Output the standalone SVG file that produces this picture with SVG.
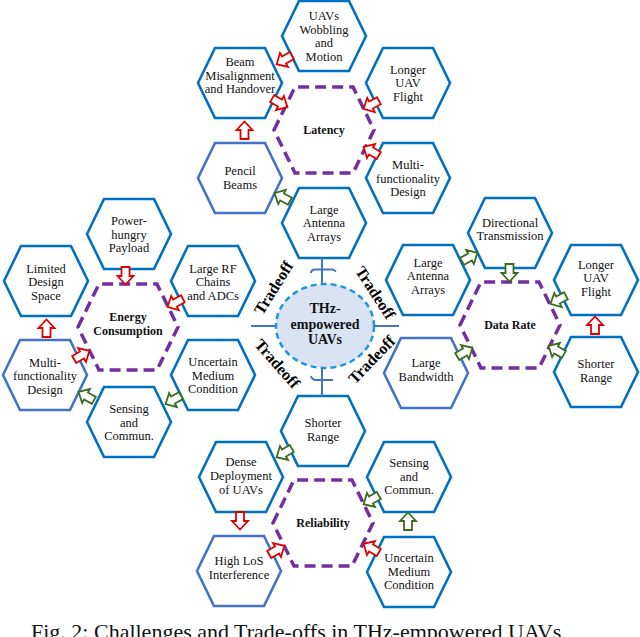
<svg xmlns="http://www.w3.org/2000/svg" xmlns:xlink="http://www.w3.org/1999/xlink" width="640" height="637" viewBox="0 0 640 637">
<defs>
<style>
.hx{fill:#fff;stroke:#0070C0;stroke-width:2.6;stroke-linejoin:miter}
.hl{fill:#fff;stroke:#4472C4;stroke-width:2.6}
.dh{fill:none;stroke:#7030A0;stroke-width:3.5;stroke-dasharray:11 6}
.t{font-family:"Liberation Serif","Times New Roman",serif;font-size:12.5px;text-anchor:middle;fill:#111}
.b{font-family:"Liberation Serif","Times New Roman",serif;font-size:12px;font-weight:bold;text-anchor:middle;fill:#111}
.c{font-family:"Liberation Serif","Times New Roman",serif;font-size:14px;font-weight:bold;text-anchor:middle;fill:#111}
.to{font-family:"Liberation Serif","Times New Roman",serif;font-size:16px;font-weight:bold;text-anchor:middle;fill:#000}
.r{fill:#fff;stroke:#E00000;stroke-width:1.8;stroke-linejoin:miter}
.g{fill:#fff;stroke:#3B6B1F;stroke-width:1.8;stroke-linejoin:miter}
.ln{stroke:#4472C4;stroke-width:2;fill:none}
</style>
<polygon id="hex" points="-42,0 -25,-35 25,-35 42,0 25,35 -25,35"/>
<polygon id="dhex" points="-50,0 -29,-43 29,-43 50,0 29,43 -29,43"/>
<path id="arr" d="M-9,-4 H0 V-8 L8.5,0 L0,8 V4 H-9 Z"/>
</defs>
<rect width="640" height="637" fill="#fff"/>

<!-- Latency cluster -->
<g id="n-uavs-wobbling"><use href="#hex" class="hx" transform="translate(324,36)"/><text class="t" x="324"><tspan x="324" y="20">UAVs</tspan><tspan x="324" y="33.5">Wobbling</tspan><tspan x="324" y="47">and</tspan><tspan x="324" y="60.5">Motion</tspan></text></g>
<g id="n-beam-misalignment"><use href="#hex" class="hx" transform="translate(240,83)"/><text class="t"><tspan x="240" y="66">Beam</tspan><tspan x="240" y="79.5">Misalignment</tspan><tspan x="240" y="93">and Handover</tspan></text></g>
<g id="n-longer-uav-flight-1"><use href="#hex" class="hx" transform="translate(408,83)"/><text class="t"><tspan x="408" y="73.5">Longer</tspan><tspan x="408" y="87">UAV</tspan><tspan x="408" y="100.5">Flight</tspan></text></g>
<g id="n-latency"><use href="#dhex" class="dh" transform="translate(324,130)"/><text class="b" x="324" y="133.5">Latency</text></g>
<g id="n-pencil-beams"><use href="#hex" class="hl" transform="translate(240,178)"/><text class="t"><tspan x="240" y="175">Pencil</tspan><tspan x="240" y="188.5">Beams</tspan></text></g>
<g id="n-multi-func-1"><use href="#hex" class="hx" transform="translate(408,178)"/><text class="t"><tspan x="408" y="169">Multi-</tspan><tspan x="408" y="182.5">functionality</tspan><tspan x="408" y="196">Design</tspan></text></g>
<g id="n-large-antenna-1"><use href="#hex" class="hx" transform="translate(324,223)"/><text class="t"><tspan x="324" y="213.5">Large</tspan><tspan x="324" y="227">Antenna</tspan><tspan x="324" y="240.5">Arrays</tspan></text></g>

<!-- Energy cluster -->
<g id="n-power-hungry"><use href="#hex" class="hx" transform="translate(129,234)"/><text class="t"><tspan x="129" y="225">Power-</tspan><tspan x="129" y="238.5">hungry</tspan><tspan x="129" y="252">Payload</tspan></text></g>
<g id="n-limited-design"><use href="#hex" class="hx" transform="translate(46,281)"/><text class="t"><tspan x="46" y="272.5">Limited</tspan><tspan x="46" y="286">Design</tspan><tspan x="46" y="299.5">Space</tspan></text></g>
<g id="n-large-rf"><use href="#hex" class="hx" transform="translate(213,281)"/><text class="t"><tspan x="213" y="272.5">Large RF</tspan><tspan x="213" y="286">Chains</tspan><tspan x="213" y="299.5">and ADCs</tspan></text></g>
<g id="n-energy"><use href="#dhex" class="dh" transform="translate(128,327)"/><text class="b"><tspan x="128" y="321">Energy</tspan><tspan x="128" y="334.5">Consumption</tspan></text></g>
<g id="n-multi-func-2"><use href="#hex" class="hl" transform="translate(45,375)"/><text class="t"><tspan x="45" y="366.5">Multi-</tspan><tspan x="45" y="380">functionality</tspan><tspan x="45" y="393.5">Design</tspan></text></g>
<g id="n-uncertain-1"><use href="#hex" class="hx" transform="translate(213,375)"/><text class="t"><tspan x="213" y="366">Uncertain</tspan><tspan x="213" y="379.5">Medium</tspan><tspan x="213" y="393">Condition</tspan></text></g>
<g id="n-sensing-1"><use href="#hex" class="hx" transform="translate(129,422)"/><text class="t"><tspan x="129" y="413">Sensing</tspan><tspan x="129" y="426.5">and</tspan><tspan x="129" y="440">Commun.</tspan></text></g>

<!-- Data rate cluster -->
<g id="n-directional"><use href="#hex" class="hx" transform="translate(510,233)"/><text class="t"><tspan x="510" y="226.5">Directional</tspan><tspan x="510" y="240">Transmission</tspan></text></g>
<g id="n-large-antenna-2"><use href="#hex" class="hx" transform="translate(428,280)"/><text class="t"><tspan x="428" y="266.5">Large</tspan><tspan x="428" y="280">Antenna</tspan><tspan x="428" y="293.5">Arrays</tspan></text></g>
<g id="n-longer-uav-flight-2"><use href="#hex" class="hx" transform="translate(596,280)"/><text class="t"><tspan x="596" y="268.5">Longer</tspan><tspan x="596" y="282">UAV</tspan><tspan x="596" y="295.5">Flight</tspan></text></g>
<g id="n-data-rate"><use href="#dhex" class="dh" transform="translate(510,325)"/><text class="b" x="510" y="329">Data Rate</text></g>
<g id="n-large-bandwidth"><use href="#hex" class="hl" transform="translate(426,373)"/><text class="t"><tspan x="426" y="366.5">Large</tspan><tspan x="426" y="381">Bandwidth</tspan></text></g>
<g id="n-shorter-range-1"><use href="#hex" class="hx" transform="translate(596,372)"/><text class="t"><tspan x="596" y="368">Shorter</tspan><tspan x="596" y="381.5">Range</tspan></text></g>

<!-- Reliability cluster -->
<g id="n-shorter-range-2"><use href="#hex" class="hx" transform="translate(323,431)"/><text class="t"><tspan x="323" y="427">Shorter</tspan><tspan x="323" y="440.5">Range</tspan></text></g>
<g id="n-dense"><use href="#hex" class="hx" transform="translate(241,477)"/><text class="t"><tspan x="241" y="466">Dense</tspan><tspan x="241" y="480">Deployment</tspan><tspan x="241" y="494">of UAVs</tspan></text></g>
<g id="n-sensing-2"><use href="#hex" class="hx" transform="translate(409,477)"/><text class="t"><tspan x="409" y="467">Sensing</tspan><tspan x="409" y="480.5">and</tspan><tspan x="409" y="494">Commun.</tspan></text></g>
<g id="n-reliability"><use href="#dhex" class="dh" transform="translate(323,523)"/><text class="b" x="323" y="527">Reliability</text></g>
<g id="n-high-los"><use href="#hex" class="hl" transform="translate(239,571)"/><text class="t"><tspan x="239" y="565">High LoS</tspan><tspan x="239" y="579">Interference</tspan></text></g>
<g id="n-uncertain-2"><use href="#hex" class="hx" transform="translate(409,572)"/><text class="t"><tspan x="409" y="562">Uncertain</tspan><tspan x="409" y="575.5">Medium</tspan><tspan x="409" y="589">Condition</tspan></text></g>

<!-- Center -->
<g id="n-center">
<ellipse cx="325" cy="326" rx="49" ry="42" fill="#DAE3F3" stroke="#1F97D8" stroke-width="2.5" stroke-dasharray="6 4"/>
<text class="c"><tspan x="325" y="312.5">THz-</tspan><tspan x="325" y="328.5">empowered</tspan><tspan x="325" y="344">UAVs</tspan></text>
</g>

<!-- Connectors -->
<g id="connectors">
<line class="ln" x1="251" y1="326" x2="276" y2="326"/>
<line class="ln" x1="374" y1="326" x2="399" y2="326"/>
<line class="ln" x1="322" y1="258" x2="322" y2="284"/>
<line class="ln" x1="322" y1="368" x2="322" y2="396"/>
<path class="ln" stroke-width="3" d="M311,273 Q311,269.5 315,269.5 L333,269.5 L336,271.5"/>
<path class="ln" stroke-width="3" d="M311,376 Q312,380 316,380 L333,380"/>

<use href="#arr" class="r" transform="translate(284,60) rotate(150)"/>
<use href="#arr" class="r" transform="translate(280,103) rotate(29)"/>
<use href="#arr" class="r" transform="translate(371,105) rotate(152)"/>
<use href="#arr" class="r" transform="translate(371,151) rotate(210)"/>
<use href="#arr" class="r" transform="translate(244.5,130) rotate(-90)"/>
<use href="#arr" class="g" transform="translate(282,197) rotate(208)"/>

<use href="#arr" class="r" transform="translate(125.5,276) rotate(90)"/>
<use href="#arr" class="r" transform="translate(175,303) rotate(152)"/>
<use href="#arr" class="r" transform="translate(46.5,328) rotate(-90)"/>
<use href="#arr" class="r" transform="translate(82,355) rotate(-30)"/>
<use href="#arr" class="g" transform="translate(86,396) rotate(209)"/>
<use href="#arr" class="g" transform="translate(173,400) rotate(151)"/>

<use href="#arr" class="g" transform="translate(470,257) rotate(-29)"/>
<use href="#arr" class="g" transform="translate(509.5,273) rotate(90)"/>
<use href="#arr" class="g" transform="translate(558,300) rotate(152)"/>
<use href="#arr" class="r" transform="translate(595,325) rotate(-90)"/>
<use href="#arr" class="g" transform="translate(556,350) rotate(209)"/>
<use href="#arr" class="g" transform="translate(465,352) rotate(-30)"/>

<use href="#arr" class="g" transform="translate(284,453) rotate(150)"/>
<use href="#arr" class="r" transform="translate(240,521) rotate(90)"/>
<use href="#arr" class="r" transform="translate(277,550) rotate(-30)"/>
<use href="#arr" class="g" transform="translate(371,500) rotate(150)"/>
<use href="#arr" class="g" transform="translate(408,521) rotate(-90)"/>
<use href="#arr" class="r" transform="translate(371,548) rotate(210)"/>
</g>

<!-- Tradeoff labels -->
<g id="tradeoffs">
<text class="to" transform="translate(274,288) rotate(-58)" x="0" y="5">Tradeoff</text>
<text class="to" transform="translate(375,293) rotate(57)" x="0" y="5">Tradeoff</text>
<text class="to" transform="translate(277,364) rotate(49)" x="0" y="5">Tradeoff</text>
<text class="to" transform="translate(372,360) rotate(-46)" x="0" y="5">Tradeoff</text>
</g>

<text id="caption" x="31" y="639" font-family="Liberation Serif,'Times New Roman',serif" font-size="22" fill="#111">Fig. 2: Challenges and Trade-offs in THz-empowered UAVs</text>
</svg>
